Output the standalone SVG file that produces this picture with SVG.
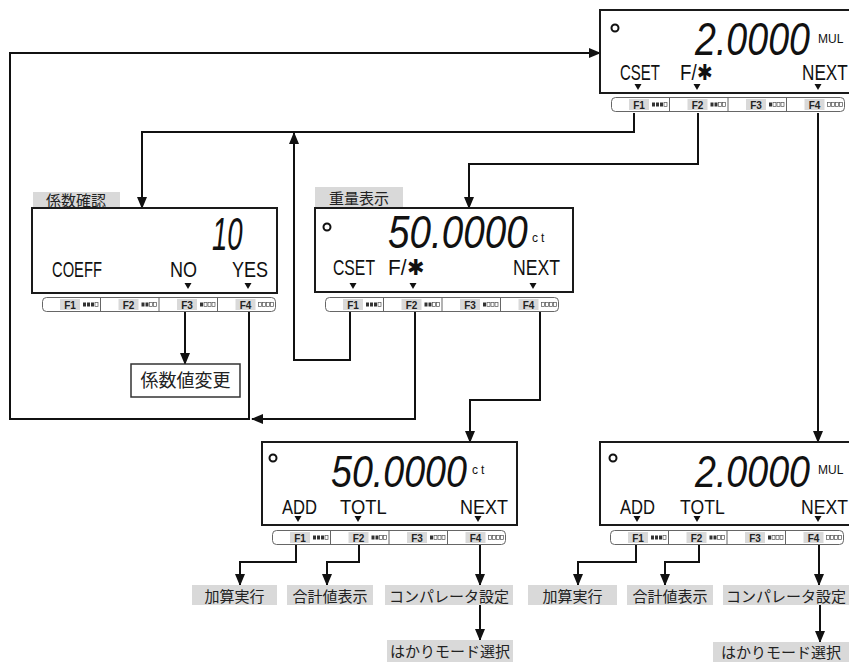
<svg xmlns="http://www.w3.org/2000/svg" xmlns:xlink="http://www.w3.org/1999/xlink" width="849" height="662" viewBox="0 0 849 662">
<style>
.disp{fill:#fff;stroke:#1a1a1a;stroke-width:2}
.dot{fill:none;stroke:#111;stroke-width:2}
.big{font-family:"Liberation Sans",Arial,sans-serif;font-style:italic;font-size:46px;fill:#111}
.big2{font-family:"Liberation Sans",Arial,sans-serif;font-style:italic;font-size:44px;fill:#111}
.unit{font-family:"Liberation Sans",Arial,sans-serif;font-size:12px;fill:#111}
.lcd{font-family:"Liberation Sans",Arial,sans-serif;font-size:22px;fill:#111}
.lcd2{font-family:"Liberation Sans",Arial,sans-serif;font-size:21px;fill:#111}
.lbl{fill:#d9d9d9}
.jp{font-family:"Noto Sans CJK JP",sans-serif;font-size:15px;fill:#222;text-anchor:middle}
.fk{font-family:"Liberation Sans",Arial,sans-serif;font-size:10px;font-weight:bold;fill:#222;text-anchor:middle}
.con{fill:none;stroke:#111;stroke-width:2;marker-end:url(#ah)}
.fbo{fill:#fff;stroke:#666;stroke-width:1}
.fdv{stroke:#666;stroke-width:1}
.sqf{fill:#333}
.sqe{fill:#fff;stroke:#555;stroke-width:0.7}
</style>
<defs>
<marker id="ah" viewBox="0 0 12 10" refX="11" refY="5" markerWidth="12" markerHeight="10" markerUnits="userSpaceOnUse" orient="auto"><path d="M0,0 L12,5 L0,10 z" fill="#111"/></marker>
<path id="tri" d="M-3.5,0 L3.5,0 L0,6 z" fill="#111"/>
<g id="fbar">
<rect class="fbo" x="0.5" y="0.5" width="233" height="14" rx="4"/>
<line class="fdv" x1="58.5" y1="0.5" x2="58.5" y2="14.5"/>
<line class="fdv" x1="117" y1="0.5" x2="117" y2="14.5"/>
<line class="fdv" x1="175.5" y1="0.5" x2="175.5" y2="14.5"/>
<rect class="lbl" x="18" y="2" width="20" height="11"/>
<text class="fk" x="28" y="11.5">F1</text>
<rect class="sqf" x="41" y="5.5" width="3" height="4"/><rect class="sqf" x="45" y="5.5" width="3" height="4"/><rect class="sqf" x="49" y="5.5" width="3" height="4"/><rect class="sqe" x="53" y="5.5" width="3" height="4"/>
<rect class="lbl" x="76.5" y="2" width="20" height="11"/>
<text class="fk" x="86.5" y="11.5">F2</text>
<rect class="sqf" x="99.5" y="5.5" width="3" height="4"/><rect class="sqf" x="103.5" y="5.5" width="3" height="4"/><rect class="sqe" x="107.5" y="5.5" width="3" height="4"/><rect class="sqe" x="111.5" y="5.5" width="3" height="4"/>
<rect class="lbl" x="135" y="2" width="20" height="11"/>
<text class="fk" x="145" y="11.5">F3</text>
<rect class="sqf" x="158" y="5.5" width="3" height="4"/><rect class="sqe" x="162" y="5.5" width="3" height="4"/><rect class="sqe" x="166" y="5.5" width="3" height="4"/><rect class="sqe" x="170" y="5.5" width="3" height="4"/>
<rect class="lbl" x="193.5" y="2" width="20" height="11"/>
<text class="fk" x="203.5" y="11.5">F4</text>
<rect class="sqe" x="216.5" y="5.5" width="3" height="4"/><rect class="sqe" x="220.5" y="5.5" width="3" height="4"/><rect class="sqe" x="224.5" y="5.5" width="3" height="4"/><rect class="sqe" x="228.5" y="5.5" width="3" height="4"/>
</g>
</defs>
<rect width="849" height="662" fill="#fff"/>

<g id="connectors">
<path class="con" d="M634,113 V132 H142 V208"/>
<path class="con" d="M698,113 V164 H469 V208"/>
<path class="con" d="M818,113 V442"/>
<path class="con" d="M185,311 V364"/>
<path class="con" d="M249,311 V419 H10 V53 H600"/>
<path class="con" d="M350,311 V360 H294 V133"/>
<path class="con" d="M415,311 V419 H252"/>
<path class="con" d="M540,311 V400 H470 V442"/>
<path class="con" d="M296,545 V562 H240 V585"/>
<path class="con" d="M359,545 V562 H327 V585"/>
<path class="con" d="M480,545 V585"/>
<path class="con" d="M480,605 V640"/>
<path class="con" d="M636,545 V562 H578 V585"/>
<path class="con" d="M699,545 V562 H665 V585"/>
<path class="con" d="M819,545 V585"/>
<path class="con" d="M820,605 V642"/>
</g>

<g id="disp-top">
<rect class="disp" x="600" y="10" width="270" height="83"/>
<circle class="dot" cx="615" cy="28" r="3.5"/>
<text class="big" transform="translate(695,55) scale(0.817,1)">2.0000</text>
<text class="unit" x="818" y="43">MUL</text>
<text class="lcd" transform="translate(620,80) scale(0.682,1)">CSET</text>
<text class="lcd" transform="translate(680,80) scale(0.85,1)">F/✱</text>
<text class="lcd" transform="translate(802,80) scale(0.78,1)">NEXT</text>
<use xlink:href="#tri" x="638" y="84"/><use xlink:href="#tri" x="697" y="84"/><use xlink:href="#tri" x="818" y="84"/>
<use xlink:href="#fbar" transform="translate(611,97)"/>
</g>

<g id="disp-coeff">
<rect class="lbl" x="33" y="192" width="87" height="16"/>
<text class="jp" x="76" y="206">係数確認</text>
<rect class="disp" x="32" y="208" width="245" height="85"/>
<text class="big" transform="translate(212,250) scale(0.6,1)">10</text>
<text class="lcd" transform="translate(52,277) scale(0.67,1)">COEFF</text>
<text class="lcd" transform="translate(170,277) scale(0.82,1)">NO</text>
<text class="lcd" transform="translate(232,277) scale(0.82,1)">YES</text>
<use xlink:href="#tri" x="188" y="283"/><use xlink:href="#tri" x="248" y="283"/>
<use xlink:href="#fbar" transform="translate(42,297)"/>
</g>

<g id="disp-weight">
<rect class="lbl" x="315" y="187" width="88" height="21"/>
<text class="jp" x="359" y="204">重量表示</text>
<rect class="disp" x="315" y="208" width="258" height="84"/>
<circle class="dot" cx="327" cy="227" r="3.5"/>
<text class="big" transform="translate(388,248) scale(0.84,1)">50.0000</text>
<text class="unit" x="532" y="242" letter-spacing="3">ct</text>
<text class="lcd" transform="translate(333,275) scale(0.716,1)">CSET</text>
<text class="lcd" transform="translate(388,275) scale(0.95,1)">F/✱</text>
<text class="lcd" transform="translate(513,275) scale(0.8,1)">NEXT</text>
<use xlink:href="#tri" x="353" y="283"/><use xlink:href="#tri" x="413" y="283"/><use xlink:href="#tri" x="533" y="283"/>
<use xlink:href="#fbar" transform="translate(325,297)"/>
</g>

<g id="coeff-change">
<rect x="131" y="364" width="109" height="33" fill="#fff" stroke="#333" stroke-width="1.5"/>
<text class="jp" x="185.5" y="387" style="font-size:18px">係数値変更</text>
</g>

<g id="disp-bl">
<rect class="disp" x="262" y="442" width="255" height="83"/>
<circle class="dot" cx="273" cy="458" r="3.5"/>
<text class="big2" transform="translate(331,487) scale(0.855,1)">50.0000</text>
<text class="unit" x="472" y="474" letter-spacing="3">ct</text>
<text class="lcd2" transform="translate(282,514) scale(0.79,1)">ADD</text>
<text class="lcd2" transform="translate(340,514) scale(0.875,1)">TOTL</text>
<text class="lcd2" transform="translate(460,514) scale(0.857,1)">NEXT</text>
<use xlink:href="#tri" x="298" y="516"/><use xlink:href="#tri" x="358" y="516"/><use xlink:href="#tri" x="478" y="516"/>
<use xlink:href="#fbar" transform="translate(272,530)"/>
</g>

<g id="disp-br">
<rect class="disp" x="600" y="442" width="270" height="83"/>
<circle class="dot" cx="613" cy="458" r="3.5"/>
<text class="big2" transform="translate(695,487) scale(0.855,1)">2.0000</text>
<text class="unit" x="818" y="474">MUL</text>
<text class="lcd2" transform="translate(620,514) scale(0.79,1)">ADD</text>
<text class="lcd2" transform="translate(680,514) scale(0.84,1)">TOTL</text>
<text class="lcd2" transform="translate(801,514) scale(0.84,1)">NEXT</text>
<use xlink:href="#tri" x="637" y="516"/><use xlink:href="#tri" x="697" y="516"/><use xlink:href="#tri" x="818" y="516"/>
<use xlink:href="#fbar" transform="translate(610,530)"/>
</g>

<g id="lbl-add-l"><rect class="lbl" x="192" y="585" width="85" height="20"/><text class="jp" x="234.5" y="602">加算実行</text></g>
<g id="lbl-total-l"><rect class="lbl" x="287" y="585" width="86" height="20"/><text class="jp" x="330" y="602">合計値表示</text></g>
<g id="lbl-comp-l"><rect class="lbl" x="385" y="585" width="128" height="20"/><text class="jp" x="449" y="602">コンパレータ設定</text></g>
<g id="lbl-mode-l"><rect class="lbl" x="387" y="640" width="126" height="22"/><text class="jp" x="450" y="657">はかりモード選択</text></g>
<g id="lbl-add-r"><rect class="lbl" x="528" y="585" width="89" height="20"/><text class="jp" x="572.5" y="602">加算実行</text></g>
<g id="lbl-total-r"><rect class="lbl" x="627" y="585" width="86" height="20"/><text class="jp" x="670" y="602">合計値表示</text></g>
<g id="lbl-comp-r"><rect class="lbl" x="723" y="585" width="130" height="20"/><text class="jp" x="786" y="602">コンパレータ設定</text></g>
<g id="lbl-mode-r"><rect class="lbl" x="713" y="642" width="140" height="20"/><text class="jp" x="781" y="658">はかりモード選択</text></g>
</svg>
